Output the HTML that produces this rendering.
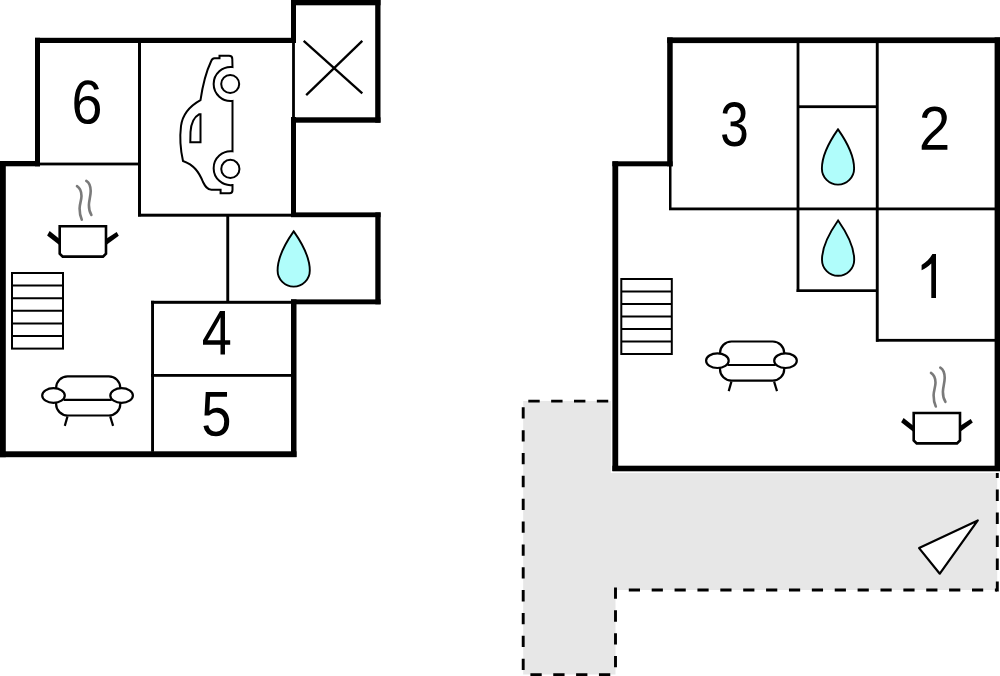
<!DOCTYPE html>
<html><head><meta charset="utf-8"><style>
html,body{margin:0;padding:0;background:#fff;width:1000px;height:676px;overflow:hidden}
svg{display:block}
text{font-family:"Liberation Sans",sans-serif;fill:#000}
</style></head><body>
<svg width="1000" height="676" viewBox="0 0 1000 676">
<defs>
<g id="sofa" stroke="#000" stroke-width="2.2">
<rect x="2.4" y="-19.1" width="64.2" height="39.2" rx="11.5" ry="11.5" fill="#fff"/>
<line x1="10" y1="4.4" x2="58" y2="4.4"/>
<ellipse cx="-0.2" cy="0.1" rx="11.3" ry="7.3" fill="#fff"/>
<ellipse cx="67.9" cy="0.1" rx="11.3" ry="7.3" fill="#fff"/>
<line x1="13.8" y1="21" x2="11.1" y2="30.5"/>
<line x1="56.5" y1="21" x2="59.4" y2="30.5"/>
</g>
<g id="pot">
<path d="M77 186.1 C80 188 81.5 191 81.5 196 C81.5 200 79.6 204 79.6 208.5 C79.6 213 80.5 217 81.8 219.7" fill="none" stroke="#7a7a7a" stroke-width="2.6" stroke-linecap="round"/>
<path d="M86.3 180.9 C89 182.5 90.6 186 90.7 191 C90.7 196 88.9 201 88.9 205 C88.9 209 89.8 212.5 91.4 215" fill="none" stroke="#7a7a7a" stroke-width="2.6" stroke-linecap="round"/>
<path d="M59.7 226.2 L106 226.2 L106 253.6 L103 256.6 L62.7 256.6 L59.7 253.6 Z" fill="#fff" stroke="#000" stroke-width="2.6"/>
<polygon points="49.6,231.1 59,238.6 59,244.8 47.1,235.5" fill="#000"/>
<polygon points="106.6,238.6 116.7,232.1 118.8,235.8 106.6,244.8" fill="#000"/>
</g>
<path id="drop" d="M0 0 C-4.7 6.7 -16.1 22.7 -16.1 39.2 A16.1 16.1 0 0 0 16.1 39.2 C16.1 22.7 4.7 6.7 0 0 Z" fill="#b0fdfb" stroke="#000" stroke-width="1.9"/>
</defs>

<!-- terrace -->
<path d="M523.2 401.1 L700 401.1 L700 468 L997.2 468 L997.2 590 L615.5 590 L615.5 674.5 L523.2 674.5 Z" fill="#e7e7e7"/>
<g stroke="#000" stroke-width="2.9" fill="none">
<line x1="528.3" y1="401.1" x2="612.4" y2="401.1" stroke-dasharray="11.4 11.45"/>
<line x1="523.2" y1="407.3" x2="523.2" y2="674" stroke-dasharray="11.3 11.55"/>
<line x1="530.4" y1="674.6" x2="614" y2="674.6" stroke-dasharray="11.3 11.55"/>
<line x1="615.5" y1="587.5" x2="615.5" y2="674" stroke-dasharray="11.3 11.55"/>
<line x1="628.8" y1="590" x2="997" y2="590" stroke-dasharray="11.2 11.68"/>
<line x1="997.3" y1="466.5" x2="997.3" y2="591.5" stroke-dasharray="11.5 11.48"/>
</g>
<polygon points="919.1,548.1 977.8,520.4 939.8,573.7" fill="#fff" stroke="#000" stroke-width="2.2" stroke-linejoin="round"/>

<!-- right building interior white -->
<rect x="610.9" y="160" width="389.1" height="313" fill="#fff"/>

<!-- LEFT BUILDING thick walls -->
<g fill="#000">
<rect x="35" y="37.8" width="261" height="5.2"/>
<rect x="35" y="37.8" width="5" height="128.5"/>
<rect x="0" y="161" width="40" height="5.3"/>
<rect x="0" y="161" width="5.8" height="296.2"/>
<rect x="0" y="451.3" width="296.5" height="5.9"/>
<rect x="291" y="299.4" width="5.5" height="157.6"/>
<rect x="291" y="299.4" width="89.6" height="4.9"/>
<rect x="375.3" y="212.4" width="5.3" height="91.9"/>
<rect x="291" y="212.4" width="89.6" height="4.8"/>
<rect x="291" y="117" width="5" height="100"/>
<rect x="291" y="117.3" width="89.5" height="5.4"/>
<rect x="375.2" y="0" width="5.3" height="122.7"/>
<rect x="291" y="0" width="89.5" height="5.3"/>
<rect x="291" y="0" width="5" height="42.7"/>
</g>
<!-- left thin walls -->
<g fill="#000">
<rect x="292.1" y="42" width="2.8" height="76"/>
<rect x="138" y="42" width="3" height="174.3"/>
<rect x="40" y="162.6" width="101" height="2.8"/>
<rect x="138" y="213.7" width="154" height="3"/>
<rect x="226.3" y="216" width="2.9" height="86"/>
<rect x="151" y="300.8" width="141" height="3"/>
<rect x="151.1" y="300.8" width="2.9" height="151"/>
<rect x="151" y="374" width="141" height="2.8"/>
</g>

<!-- X -->
<g stroke="#000" stroke-width="2.3">
<line x1="303.7" y1="40.8" x2="362.3" y2="93.3"/>
<line x1="362.3" y1="40.8" x2="306.2" y2="95.2"/>
</g>

<!-- car -->
<g fill="#fff" stroke="#000" stroke-width="2">
<path d="M219.5 55.8 L229 55.8 Q232.3 55.8 232.3 59 L232.5 67.1 A17 17 0 1 0 232.5 100.9 L232.5 151.3 A17 17 0 1 0 232.5 185.1 L232.5 190 Q232.5 193.3 229.5 193.3 L220.6 193.3 L220.6 189.7 L211.5 189.7 C207 189.7 205 186 203 182 C199 172 194 165 183 161 C180.5 150 179.8 136 181 126 C182.5 115 190 106 200.5 100.2 C203 83 206 72 211 61.5 Q212 58.3 214.5 58.3 L219.5 58.3 Z"/>
<path d="M200.5 114.3 L200.5 142.3 L190.3 142.3 L190.5 132 C191 124 194 117 199 114.3 Z"/>
<circle cx="230.2" cy="84" r="9"/>
<circle cx="230.35" cy="168.95" r="9.1"/>
</g>

<!-- left icons -->
<use href="#pot"/>
<rect x="12" y="273" width="51" height="75.6" fill="none" stroke="#000" stroke-width="2"/>
<g stroke="#000" stroke-width="2">
<line x1="12" y1="285.6" x2="63" y2="285.6"/>
<line x1="12" y1="298.2" x2="63" y2="298.2"/>
<line x1="12" y1="310.8" x2="63" y2="310.8"/>
<line x1="12" y1="323.4" x2="63" y2="323.4"/>
<line x1="12" y1="336" x2="63" y2="336"/>
</g>
<use href="#sofa" transform="translate(53.7 395.4)"/>
<use href="#drop" transform="translate(293.7 231.3)"/>

<!-- RIGHT BUILDING thick walls -->
<g fill="#000">
<rect x="667.2" y="37.4" width="332.8" height="5.7"/>
<rect x="667.2" y="37.4" width="5.5" height="128.9"/>
<rect x="612.4" y="161.3" width="60.2" height="5"/>
<rect x="612.4" y="161.3" width="5.8" height="309.7"/>
<rect x="612.4" y="465.7" width="387.6" height="5.6"/>
<rect x="994.6" y="37.4" width="5.4" height="433.6"/>
</g>
<g fill="#000">
<rect x="669" y="166" width="2.5" height="44"/>
<rect x="669" y="207.5" width="326" height="2.8"/>
<rect x="796.6" y="42" width="2.8" height="250"/>
<rect x="875.8" y="42" width="2.9" height="299.7"/>
<rect x="799" y="105.3" width="77" height="2.8"/>
<rect x="796.6" y="289.3" width="80.5" height="2.7"/>
<rect x="876" y="338.9" width="119" height="2.8"/>
</g>
<use href="#drop" transform="translate(838 129.3)"/>
<use href="#drop" transform="translate(838.1 220.5)"/>
<rect x="621.3" y="279" width="50.5" height="75" fill="none" stroke="#000" stroke-width="2"/>
<g stroke="#000" stroke-width="2">
<line x1="621.3" y1="291.5" x2="671.8" y2="291.5"/>
<line x1="621.3" y1="304" x2="671.8" y2="304"/>
<line x1="621.3" y1="316.5" x2="671.8" y2="316.5"/>
<line x1="621.3" y1="329" x2="671.8" y2="329"/>
<line x1="621.3" y1="341.5" x2="671.8" y2="341.5"/>
</g>
<use href="#sofa" transform="translate(717.6 360.6)"/>
<use href="#pot" transform="translate(854 186.8)"/>

<!-- numbers -->
<g fill="#000">
<path d="M100 109.54Q100 116.29 96.71 120.19Q93.42 124.1 87.63 124.1Q81.15 124.1 77.73 118.74Q74.3 113.38 74.3 103.15Q74.3 92.07 77.86 86.13Q81.43 80.2 88.01 80.2Q96.68 80.2 98.94 88.89L94.26 89.83Q92.82 84.62 87.95 84.62Q83.76 84.62 81.47 88.96Q79.17 93.31 79.17 101.54Q80.5 98.79 82.92 97.35Q85.34 95.91 88.47 95.91Q93.77 95.91 96.89 99.61Q100 103.3 100 109.54ZM95.02 109.78Q95.02 105.15 92.98 102.63Q90.94 100.12 87.3 100.12Q83.87 100.12 81.77 102.35Q79.66 104.57 79.66 108.48Q79.66 113.41 81.85 116.56Q84.04 119.71 87.46 119.71Q91 119.71 93.01 117.06Q95.02 114.41 95.02 109.78Z"/>
<path d="M224.98 344.71V354.6H220.5V344.71H203V340.36L220 310.9H224.98V340.3H230.2V344.71ZM220.5 317.2Q220.45 317.38 219.76 318.84Q219.08 320.3 218.73 320.89L209.22 337.39L207.8 339.68L207.38 340.3H220.5Z"/>
<path d="M229.2 421.48Q229.2 428.38 225.68 432.34Q222.16 436.3 215.91 436.3Q210.68 436.3 207.47 433.64Q204.25 430.98 203.4 425.94L208.24 425.29Q209.75 431.75 216.02 431.75Q219.87 431.75 222.05 429.05Q224.23 426.34 224.23 421.61Q224.23 417.49 222.04 414.96Q219.85 412.42 216.13 412.42Q214.19 412.42 212.51 413.13Q210.84 413.84 209.17 415.55H204.49L205.74 392.1H227.02V396.83H210.1L209.38 410.66Q212.49 407.87 217.11 407.87Q222.64 407.87 225.92 411.65Q229.2 415.42 229.2 421.48Z"/>
<path d="M746.5 133.98Q746.5 139.95 743.38 143.22Q740.27 146.5 734.49 146.5Q729.11 146.5 725.91 143.55Q722.7 140.59 722.1 134.8L726.77 134.28Q727.68 141.94 734.49 141.94Q737.91 141.94 739.85 139.89Q741.8 137.83 741.8 133.79Q741.8 130.27 739.58 128.3Q737.35 126.32 733.16 126.32H730.59V121.54H733.06Q736.78 121.54 738.82 119.57Q740.87 117.59 740.87 114.1Q740.87 110.64 739.2 108.64Q737.53 106.63 734.24 106.63Q731.25 106.63 729.4 108.5Q727.55 110.37 727.25 113.77L722.7 113.34Q723.21 108.04 726.31 105.07Q729.41 102.1 734.29 102.1Q739.61 102.1 742.57 105.12Q745.52 108.13 745.52 113.52Q745.52 117.66 743.62 120.24Q741.73 122.83 738.11 123.75V123.87Q742.08 124.39 744.29 127.12Q746.5 129.84 746.5 133.98Z"/>
<path d="M921.7 149.7V145.85Q923.1 142.31 925.13 139.6Q927.15 136.89 929.39 134.7Q931.62 132.5 933.81 130.62Q936 128.75 937.76 126.87Q939.52 124.99 940.61 122.93Q941.7 120.87 941.7 118.27Q941.7 114.76 939.82 112.82Q937.95 110.88 934.62 110.88Q931.45 110.88 929.4 112.77Q927.35 114.67 926.99 118.09L921.92 117.57Q922.47 112.46 925.87 109.43Q929.28 106.4 934.62 106.4Q940.49 106.4 943.64 109.44Q946.79 112.49 946.79 118.09Q946.79 120.57 945.76 123.02Q944.73 125.48 942.69 127.93Q940.65 130.38 934.89 135.53Q931.73 138.38 929.85 140.66Q927.98 142.95 927.15 145.07H947.4V149.7Z"/>
</g>
<path d="M936 254.1 L936 298 L931.3 298 L931.3 263.4 C928 266.5 925 268.5 921.6 270.2 L921.6 265 C926 262.5 930 258.5 932.4 254.1 Z" fill="#000"/>
</svg>
</body></html>
